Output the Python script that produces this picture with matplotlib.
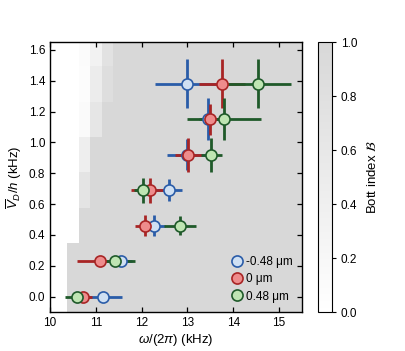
import numpy as np
import matplotlib
matplotlib.use("Agg")
import matplotlib.pyplot as plt
from matplotlib.colors import LinearSegmentedColormap
from matplotlib.lines import Line2D

plt.rcParams['font.family'] = ['Liberation Sans', 'DejaVu Sans']
plt.rcParams['mathtext.fontset'] = 'custom'
plt.rcParams['mathtext.rm'] = 'Liberation Sans'
plt.rcParams['mathtext.it'] = 'Liberation Sans:italic'
plt.rcParams['mathtext.bf'] = 'Liberation Sans:bold'

# ---- Bott index map (cell centres) ----
map_x = [10.0 + 0.25 * i for i in range(23)]
map_y = [0.0, 0.23, 0.46, 0.69, 0.92, 1.15, 1.38, 1.61]
rest = [1.0] * 17
bott_rows = [
    [0, 0, 1.0, 1.0, 1.0, 1.0] + rest,
    [0, 0, 1.0, 1.0, 1.0, 1.0] + rest,
    [0, 0, 0, 1.0, 1.0, 1.0] + rest,
    [0, 0, 0, 0.68, 1.0, 1.0] + rest,
    [0, 0, 0, 0.44, 1.0, 1.0] + rest,
    [0, 0, 0, 0.12, 0.64, 1.0] + rest,
    [0, 0, 0, 0.08, 0.49, 0.85] + rest,
    [0, 0, 0, 0.10, 0.33, 0.74] + rest,
]

# ---- data points: offsets -0.48, 0, 0.48 um ----
series_labels = ['-0.48 μm', '0 μm', '0.48 μm']
y_vals = [0.0, 0.23, 0.46, 0.69, 0.92, 1.15, 1.38]
blue_x = [11.15, 11.55, 12.26, 12.59, 13.00, 13.45, 12.98]
blue_xerr = [0.42, 0.25, 0.25, 0.30, 0.45, 0.20, 0.69]
blue_yerr = [0.0, 0.0, 0.07, 0.07, 0.10, 0.135, 0.16]
red_x = [10.72, 11.08, 12.07, 12.18, 13.02, 13.50, 13.75]
red_xerr = [0.20, 0.49, 0.22, 0.41, 0.30, 0.20, 0.50]
red_yerr = [0.0, 0.0, 0.07, 0.08, 0.11, 0.10, 0.16]
green_x = [10.58, 11.41, 12.84, 12.04, 13.52, 13.80, 14.55]
green_xerr = [0.25, 0.44, 0.35, 0.20, 0.23, 0.80, 0.70]
green_yerr = [0.0, 0.0, 0.06, 0.08, 0.11, 0.135, 0.16]

edge_colors = ['#2a5ca8', '#a82525', '#1f5a2a']
face_colors = ['#cfe0f3', '#ee8c8c', '#bfe5b3']

fig = plt.figure(figsize=(4.06, 3.51), dpi=100)
ax = fig.add_axes([0.1232, 0.111, 0.6207, 0.769])
cax = fig.add_axes([0.783, 0.111, 0.0345, 0.769])

cmap = LinearSegmentedColormap.from_list('bott', ['#ffffff', '#d8d8d8'])
mx = np.array(map_x)
my = np.array(map_y)
xe = np.concatenate([mx - 0.125, [mx[-1] + 0.125]])
ye = np.concatenate([my - 0.115, [my[-1] + 0.115]])
mesh = ax.pcolormesh(xe, ye, np.array(bott_rows), cmap=cmap, vmin=0, vmax=1,
                     shading='flat', zorder=0)

xs = [blue_x, red_x, green_x]
xerrs = [blue_xerr, red_xerr, green_xerr]
yerrs = [blue_yerr, red_yerr, green_yerr]
for k in range(3):
    ax.errorbar(xs[k], y_vals, xerr=xerrs[k], yerr=yerrs[k], fmt='none',
                ecolor=edge_colors[k], elinewidth=2.0, capsize=0, zorder=2)
for k in range(3):
    ax.plot(xs[k], y_vals, 'o', ms=8, mfc=face_colors[k], mec=edge_colors[k],
            mew=1.2, zorder=3)

ax.set_xlim(10, 15.5)
ax.set_ylim(-0.1, 1.65)
ax.set_xticks([10, 11, 12, 13, 14, 15])
ax.set_yticks([0.0, 0.2, 0.4, 0.6, 0.8, 1.0, 1.2, 1.4, 1.6])
ax.set_yticklabels(['0.0', '0.2', '0.4', '0.6', '0.8', '1.0', '1.2', '1.4', '1.6'])
ax.tick_params(direction='in', top=True, right=True, labelsize=8.5, length=3.5, width=0.9)
for s in ax.spines.values():
    s.set_linewidth(1.0)
ax.set_xlabel(r'$\omega/(2\pi)$ (kHz)', fontsize=9.5, labelpad=2)
ax.set_ylabel(r'$\overline{V}_D/h$ (kHz)', fontsize=9.5, labelpad=3)

handles = [Line2D([], [], ls='none', marker='o', ms=8, mfc=face_colors[k],
                  mec=edge_colors[k], mew=1.2) for k in range(3)]
ax.legend(handles, series_labels, loc='lower left', bbox_to_anchor=(0.68, 0.0),
          frameon=False, fontsize=8.5, handletextpad=0.3, labelspacing=0.45,
          handlelength=1.0, borderpad=0.3)

cb = fig.colorbar(mesh, cax=cax)
cb.set_ticks([0.0, 0.2, 0.4, 0.6, 0.8, 1.0])
cb.ax.tick_params(labelsize=8.5, length=3, width=0.8, direction='out')
cb.outline.set_linewidth(0.8)
cb.set_label(r'Bott index $\mathcal{B}$', fontsize=9.5, labelpad=6,
             math_fontfamily='stix')

fig.savefig('out.png', dpi=100)
